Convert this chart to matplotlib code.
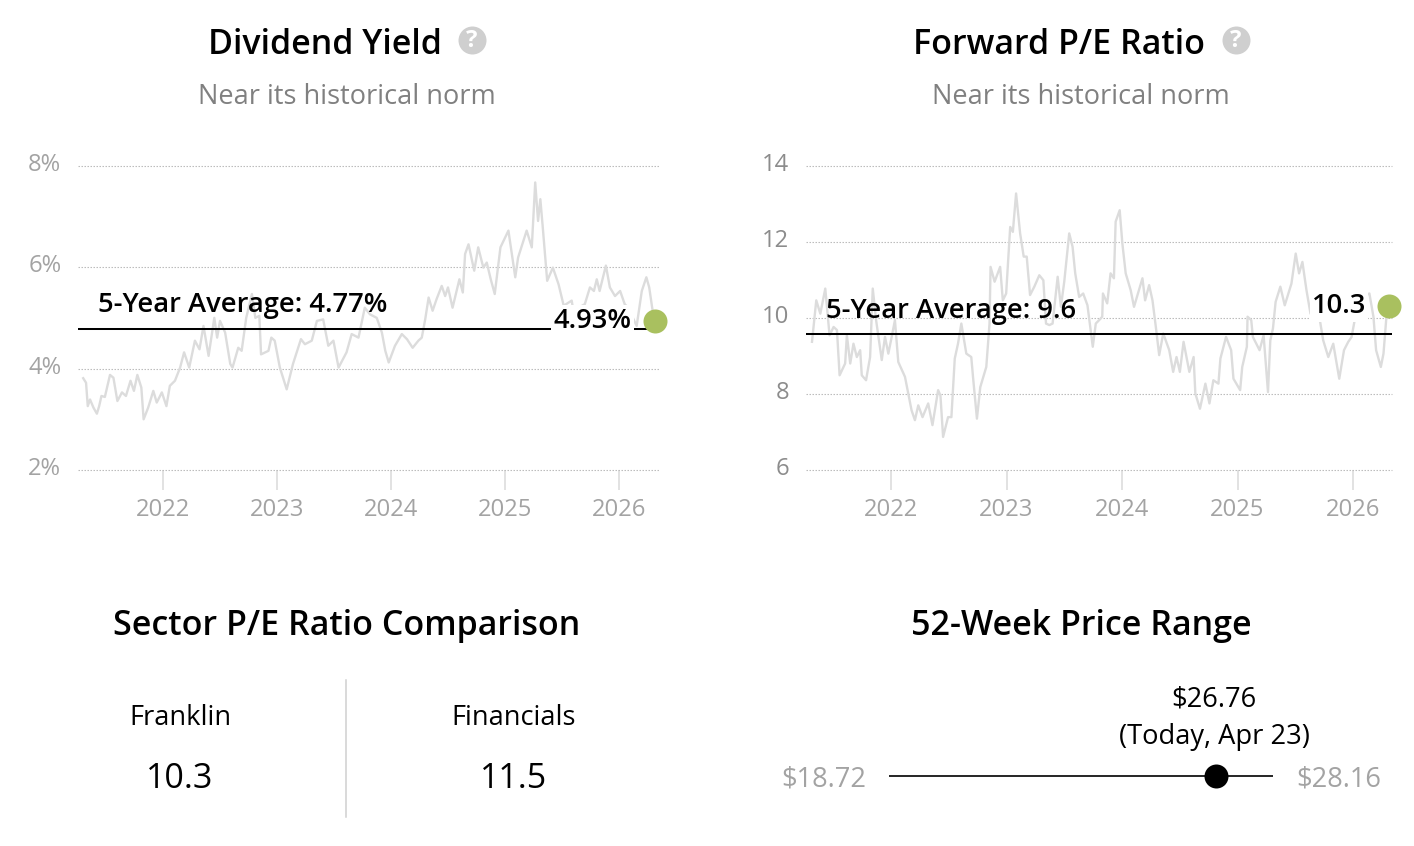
import matplotlib
matplotlib.use("Agg")
import matplotlib.pyplot as plt
from matplotlib.ticker import FuncFormatter
from matplotlib.transforms import ScaledTranslation

plt.rcParams['font.family'] = ['Open Sans', 'DejaVu Sans']

# ---------- data ----------
yield_dates = [2021.30,2021.325,2021.34,2021.36,2021.39,2021.42,2021.44,2021.46,2021.49,2021.535,2021.565,2021.60,2021.64,2021.675,2021.715,2021.745,2021.775,2021.81,2021.83,2021.87,2021.915,2021.945,2021.99,2022.03,2022.06,2022.105,2022.15,2022.185,2022.23,2022.28,2022.32,2022.355,2022.40,2022.45,2022.475,2022.50,2022.545,2022.59,2022.61,2022.66,2022.69,2022.73,2022.78,2022.81,2022.845,2022.86,2022.925,2022.95,2022.98,2023.025,2023.085,2023.14,2023.21,2023.245,2023.305,2023.35,2023.405,2023.45,2023.495,2023.54,2023.61,2023.655,2023.715,2023.77,2023.815,2023.875,2023.92,2023.95,2023.98,2024.035,2024.095,2024.14,2024.19,2024.24,2024.27,2024.30,2024.33,2024.365,2024.40,2024.445,2024.475,2024.50,2024.54,2024.60,2024.63,2024.65,2024.68,2024.73,2024.765,2024.81,2024.84,2024.875,2024.91,2024.96,2025.03,2025.09,2025.115,2025.19,2025.235,2025.265,2025.29,2025.31,2025.33,2025.37,2025.42,2025.47,2025.515,2025.585,2025.605,2025.645,2025.70,2025.745,2025.78,2025.805,2025.83,2025.885,2025.92,2025.965,2026.01,2026.05,2026.08,2026.155,2026.20,2026.24,2026.265,2026.295,2026.316]
yield_values = [3.81,3.72,3.26,3.39,3.23,3.11,3.26,3.46,3.44,3.875,3.82,3.36,3.53,3.46,3.76,3.56,3.875,3.625,3.0,3.23,3.56,3.33,3.53,3.26,3.66,3.76,4.02,4.32,4.02,4.55,4.38,4.84,4.25,5.0,4.61,4.94,4.71,4.09,4.02,4.41,4.35,5.0,5.47,5.0,5.04,4.28,4.35,4.61,4.55,4.02,3.59,4.09,4.58,4.48,4.55,4.94,4.97,4.45,4.55,4.02,4.32,4.68,4.61,5.2,5.07,5.0,4.71,4.35,4.12,4.45,4.68,4.58,4.41,4.55,4.61,4.97,5.4,5.14,5.37,5.63,5.43,5.6,5.2,5.76,5.5,6.26,6.45,5.93,6.39,5.99,6.09,5.76,5.47,6.39,6.72,5.8,6.19,6.72,6.39,7.67,6.91,7.34,6.82,5.73,5.99,5.66,5.24,5.34,5.07,5.2,5.27,5.6,5.53,5.76,5.53,6.03,5.6,5.43,5.53,5.27,5.2,4.84,5.53,5.8,5.6,5.14,4.93]
yield_avg = 4.79
yield_now = 4.93

pe_dates = [2021.316,2021.353,2021.388,2021.431,2021.468,2021.503,2021.532,2021.555,2021.603,2021.618,2021.647,2021.675,2021.704,2021.733,2021.747,2021.784,2021.819,2021.842,2021.871,2021.92,2021.948,2021.977,2022.006,2022.034,2022.063,2022.121,2022.178,2022.207,2022.236,2022.273,2022.322,2022.359,2022.408,2022.428,2022.451,2022.494,2022.523,2022.552,2022.58,2022.609,2022.652,2022.695,2022.71,2022.744,2022.773,2022.825,2022.853,2022.862,2022.897,2022.945,2022.968,2022.997,2023.032,2023.055,2023.083,2023.118,2023.149,2023.175,2023.204,2023.241,2023.284,2023.319,2023.342,2023.371,2023.399,2023.443,2023.471,2023.5,2023.543,2023.572,2023.595,2023.629,2023.664,2023.701,2023.73,2023.747,2023.773,2023.802,2023.829,2023.835,2023.872,2023.901,2023.93,2023.945,2023.98,2024.003,2024.032,2024.075,2024.104,2024.177,2024.2,2024.235,2024.264,2024.293,2024.322,2024.357,2024.409,2024.443,2024.472,2024.501,2024.533,2024.583,2024.62,2024.635,2024.675,2024.722,2024.757,2024.791,2024.835,2024.852,2024.901,2024.945,2024.965,2025.023,2025.041,2025.081,2025.087,2025.119,2025.133,2025.191,2025.226,2025.264,2025.284,2025.307,2025.33,2025.371,2025.409,2025.467,2025.504,2025.533,2025.562,2025.597,2025.632,2025.713,2025.742,2025.786,2025.829,2025.881,2025.922,2025.959,2025.988,2026.017,2026.075,2026.142,2026.177,2026.2,2026.241,2026.264,2026.287,2026.313]
pe_values = [9.37,10.46,10.11,10.77,9.54,9.76,9.68,8.49,8.8,9.54,8.8,9.32,8.97,9.15,8.49,8.36,8.97,10.77,9.94,8.89,9.5,9.06,9.5,9.94,8.84,8.45,7.57,7.31,7.7,7.39,7.75,7.18,8.1,7.96,6.87,7.39,7.39,8.93,9.32,9.85,9.06,8.97,8.45,7.35,8.18,8.71,9.85,11.34,10.95,11.34,10.46,10.64,12.39,12.26,13.27,12.22,11.61,11.61,10.6,10.82,11.12,10.99,9.85,9.81,9.85,11.08,10.29,10.95,12.22,11.87,11.17,10.55,10.64,10.33,9.63,9.24,9.85,9.94,10.03,10.64,10.38,11.17,11.04,12.53,12.83,11.96,11.17,10.73,10.29,11.04,10.46,10.86,10.46,9.76,9.02,9.59,9.15,8.58,8.97,8.58,9.37,8.58,8.97,8.01,7.61,8.27,7.75,8.36,8.27,8.93,9.5,9.15,8.4,8.1,8.71,9.24,10.03,9.94,9.5,9.15,9.54,8.05,9.41,9.72,10.42,10.82,10.33,10.9,11.69,11.17,11.47,10.73,10.11,9.94,9.41,8.97,9.32,8.4,9.15,9.37,9.5,9.98,10.55,10.64,10.03,9.15,8.71,9.06,9.94,10.3]
pe_avg = 9.58
pe_now = 10.3

year_ticks = [2022, 2023, 2024, 2025, 2026]
yield_ticks = [2, 4, 6, 8]
pe_ticks = [6, 8, 10, 12, 14]
sector_names = ["Franklin", "Financials"]
sector_values = ["10.3", "11.5"]
price_low = 18.72
price_high = 28.16
price_now = 26.76

# ---------- helpers ----------
W, H = 1414, 846
fig = plt.figure(figsize=(W / 100, H / 100), dpi=100, facecolor="white")
PT = 0.72

bg = fig.add_axes([0, 0, 1, 1])
bg.set_xlim(0, W)
bg.set_ylim(H, 0)
bg.axis("off")

def px_axes(l, t, r, b):
    return fig.add_axes([l / W, 1 - b / H, (r - l) / W, (b - t) / H], facecolor="none")

GREY_LINE = "#dcdcdc"
TICK_TXT = "#a3a3a3"
GREEN = "#a9c05f"

def chart(l, r, xlim, ylim, yt, fmt, dates, vals, avg, now):
    ax = px_axes(l, 165.7, r, 470)
    ax.set_xlim(*xlim)
    ax.set_ylim(*ylim)
    for s in ax.spines.values():
        s.set_visible(False)
    ax.set_yticks(yt)
    ax.yaxis.set_major_formatter(FuncFormatter(fmt))
    ax.set_xticks(year_ticks)
    ax.tick_params(axis="x", length=14.4, width=1.2, color="#dddddd", labelsize=23.8 * PT,
                   labelcolor=TICK_TXT, pad=6)
    ax.tick_params(axis="y", length=0, labelsize=23.8 * PT, labelcolor=TICK_TXT, pad=12)
    shift = ScaledTranslation(0, 4 / 100, fig.dpi_scale_trans)
    for t in ax.get_yticklabels():
        t.set_transform(t.get_transform() + shift)
    ax.grid(axis="y", color="#bdbdbd", lw=0.8, ls=(0, (1.35, 1.35)), clip_on=False)
    for g in ax.get_ygridlines():
        g.set_clip_on(False)
        g.set_snap(True)
    ax.set_axisbelow(True)
    ax.plot(dates, vals, color=GREY_LINE, lw=1.7, solid_joinstyle="round", zorder=2)
    ax.axhline(avg, color="black", lw=1.45, zorder=3)
    ax.plot([dates[-1]], [now], "o", ms=24 * PT, mfc=GREEN, mec="none", zorder=6, clip_on=False)
    return ax

yr1 = (2022 - (163 - 78) / 114, 2026 + (660 - 619) / 114)
yr2 = (2022 - (891 - 806) / 115.5, 2026 + (1392 - 1353) / 115.5)
ax1 = chart(78, 660, yr1, (2, 8), yield_ticks, lambda v, p: f"{v:.0f}%",
            yield_dates, yield_values, yield_avg, yield_now)
ax2 = chart(806, 1392, yr2, (6, 14), pe_ticks, lambda v, p: f"{v:.0f}",
            pe_dates, pe_values, pe_avg, pe_now)
ax2.tick_params(axis="y", labelcolor="#8c8c8c")

# in-chart labels
lab = dict(fontsize=27.4 * PT, fontweight=600, color="black", zorder=5)
ax1.annotate("5-Year Average: 4.77%", xy=(98 / W, 1 - 305 / H), xycoords="figure fraction",
             ha="left", va="center", **lab)
ax1.annotate("4.93%", xy=(592.5 / W, 1 - 321 / H), xycoords="figure fraction", ha="center", va="center",
             bbox=dict(fc="white", ec="none", pad=1.5), **lab)
ax2.annotate("5-Year Average: 9.6", xy=(826 / W, 1 - 311 / H), xycoords="figure fraction",
             ha="left", va="center", **lab)
ax2.annotate("10.3", xy=(1339 / W, 1 - 306 / H), xycoords="figure fraction", ha="center", va="center",
             bbox=dict(fc="white", ec="none", pad=1.5), **lab)

# titles
def title(x, y, s):
    bg.text(x, y, s, ha="center", va="center", fontsize=34 * PT, fontweight=600, color="black")

title(324.5, 45, "Dividend Yield")
title(1059, 45, "Forward P/E Ratio")
title(347, 626, "Sector P/E Ratio Comparison")
title(1081, 626, "52-Week Price Range")

for cx in (472, 1236):
    bg.scatter([cx], [40.5], s=(28 * PT) ** 2, c="#cfcfcf", linewidths=0, zorder=3)
    bg.text(cx, 41, "?", ha="center", va="center", fontsize=24 * PT, fontweight="bold",
            color="white", zorder=4)

for cx in (347, 1081):
    bg.text(cx, 97, "Near its historical norm", ha="center", va="center", fontsize=27.1 * PT,
            color="#808080")

# sector comparison
bg.plot([346, 346], [680, 817], color="#d0d0d0", lw=1.1)
for cx, name, val in zip((180, 514), sector_names, sector_values):
    bg.text(cx, 718, name, ha="center", va="center", fontsize=27.3 * PT, color="black")
    bg.text(cx, 779, val, ha="center", va="center", fontsize=34 * PT, color="black")

# price range
axr = px_axes(889, 756, 1273, 796)
axr.set_xlim(price_low, price_high)
axr.set_ylim(-1, 1)
axr.axis("off")
axr.plot([price_low, price_high], [0, 0], color="black", lw=1.2)
axr.plot([price_now], [0], "o", ms=24 * PT, mfc="black", mec="none", clip_on=False)
bg.text(866, 779, f"${price_low:.2f}", ha="right", va="center", fontsize=27.2 * PT, color=TICK_TXT)
bg.text(1296, 779, f"${price_high:.2f}", ha="left", va="center", fontsize=27.2 * PT, color=TICK_TXT)
bg.text(1214, 699, f"${price_now:.2f}", ha="center", va="center", fontsize=27.2 * PT, color="black")
bg.text(1214, 737, "(Today, Apr 23)", ha="center", va="center", fontsize=27.2 * PT, color="black")

fig.savefig("out.png", dpi=100, facecolor="white")
